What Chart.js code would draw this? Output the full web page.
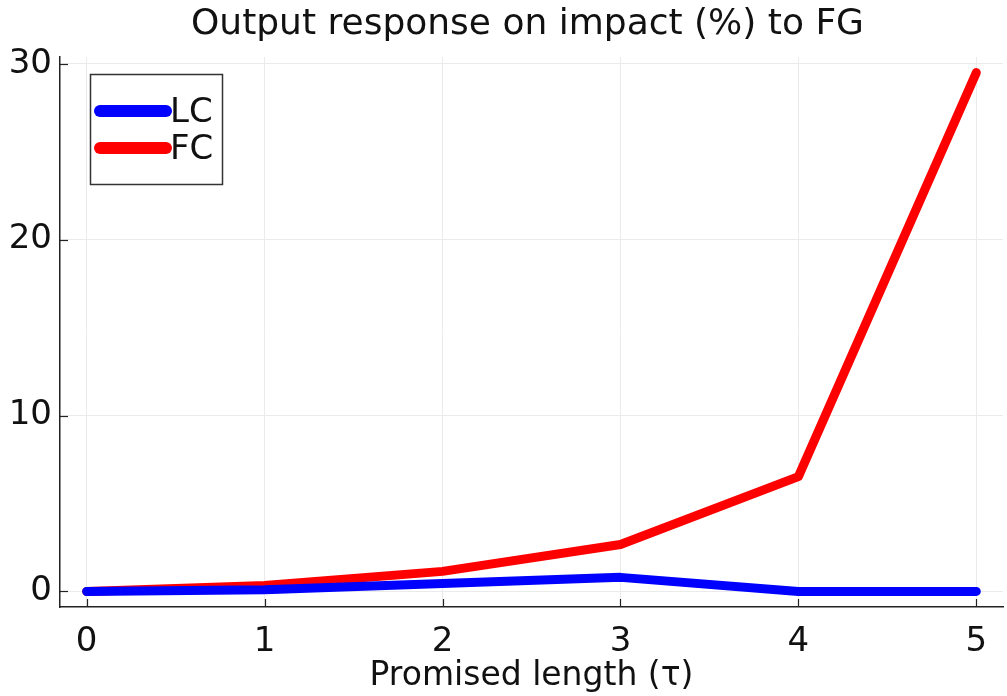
<!DOCTYPE html>
<html>
<head>
<meta charset="utf-8">
<script src="https://cdn.jsdelivr.net/npm/chart.js@4.4.1/dist/chart.umd.min.js"></script>
<style>
  html, body { margin: 0; padding: 0; background: #fff; }
  #wrap { width: 1007px; height: 696px; }
</style>
</head>
<body>
<div id="wrap"><canvas id="fgChart"></canvas></div>
<script>
// promised length of forward guidance
const horizons = [0, 1, 2, 3, 4, 5];
// output response on impact (%)
const lcValues = [0, 0.1, 0.45, 0.8, 0, 0];
const fcValues = [0, 0.34, 1.14, 2.67, 6.53, 29.5];
const xTicks = [0, 1, 2, 3, 4, 5];
const yTicks = [0, 10, 20, 30];
const titleText = 'Output response on impact (%) to FG';

const FONT = "'DejaVu Sans', sans-serif";

// title centred over the plot area, not the whole canvas
const plotTitle = {
    id: 'plotTitle',
    afterDraw(chart) {
        const c = chart.ctx, a = chart.chartArea;
        c.save();
        c.font = '36px ' + FONT;
        c.fillStyle = '#111';
        c.textAlign = 'center';
        c.textBaseline = 'middle';
        c.fillText(titleText, (a.left + a.right) / 2 - 4, 25);
        c.restore();
    }
};

// little inward tick marks like the original plot
const innerTicks = {
    id: 'innerTicks',
    afterDraw(chart) {
        const c = chart.ctx, a = chart.chartArea;
        const xs = chart.scales.x, ys = chart.scales.y;
        c.save();
        c.strokeStyle = '#222';
        c.lineWidth = 1.2;
        xTicks.forEach(v => {
            const px = Math.round(xs.getPixelForValue(v)) + 0.5;
            c.beginPath(); c.moveTo(px, a.bottom); c.lineTo(px, a.bottom - 8); c.stroke();
        });
        yTicks.forEach(v => {
            const py = Math.round(ys.getPixelForValue(v)) + 0.5;
            c.beginPath(); c.moveTo(a.left, py); c.lineTo(a.left + 8, py); c.stroke();
        });
        c.restore();
    }
};

// legend box sitting in the top-left of the plot
const boxLegend = {
    id: 'boxLegend',
    afterDraw(chart) {
        const c = chart.ctx, a = chart.chartArea;
        const x0 = a.left + 30, y0 = a.top + 17, w = 132, h = 110;
        c.save();
        c.fillStyle = '#fff';
        c.fillRect(x0, y0, w, h);
        c.strokeStyle = '#333';
        c.lineWidth = 1.5;
        c.strokeRect(x0 + 0.5, y0 + 0.5, w, h);
        c.font = '34px ' + FONT;
        c.textBaseline = 'middle';
        chart.data.datasets.forEach((ds, i) => {
            const y = y0 + 37 + i * 37;
            c.strokeStyle = ds.borderColor;
            c.lineWidth = 12;
            c.lineCap = 'round';
            c.beginPath(); c.moveTo(x0 + 10, y); c.lineTo(x0 + 76, y); c.stroke();
            c.fillStyle = '#111';
            c.fillText(ds.label, x0 + 80, y + 2);
        });
        c.restore();
    }
};

const ctx = document.getElementById('fgChart').getContext('2d');
const fgChart = new Chart(ctx, {
    type: 'line',
    data: {
        datasets: [{
            label: 'LC',
            data: horizons.map((h, i) => ({ x: h, y: lcValues[i] })),
            borderColor: '#0000ff',
            borderWidth: 9,
            pointRadius: 0,
            borderCapStyle: 'round',
            borderJoinStyle: 'round',
            tension: 0
        }, {
            label: 'FC',
            data: horizons.map((h, i) => ({ x: h, y: fcValues[i] })),
            borderColor: '#ff0000',
            borderWidth: 9,
            pointRadius: 0,
            borderCapStyle: 'round',
            borderJoinStyle: 'round',
            tension: 0
        }]
    },
    options: {
        responsive: true,
        maintainAspectRatio: false,
        animation: false,
        layout: { padding: { left: 0, right: 4, top: 57, bottom: 0 } },
        plugins: {
            legend: { display: false },
            tooltip: { enabled: false },
            title: { display: false }
        },
        scales: {
            x: {
                type: 'linear',
                min: -0.15,
                max: 5.15,
                afterBuildTicks: s => { s.ticks = xTicks.map(v => ({ value: v })); },
                afterFit: s => { s.height = 89; },
                ticks: {
                    color: '#111',
                    font: { family: FONT, size: 34 },
                    padding: 15,
                    maxRotation: 0
                },
                grid: { color: '#ebebeb', lineWidth: 1, drawTicks: false },
                border: { color: '#222', width: 1.5 },
                title: {
                    display: true,
                    text: 'Promised length (τ)',
                    color: '#111',
                    font: { family: FONT, size: 33 },
                    padding: { top: 0, bottom: 0 }
                }
            },
            y: {
                type: 'linear',
                min: -0.885,
                max: 30.385,
                afterBuildTicks: s => { s.ticks = yTicks.map(v => ({ value: v })); },
                afterFit: s => { s.width = 60; },
                ticks: {
                    color: '#111',
                    font: { family: FONT, size: 34 },
                    padding: 8
                },
                grid: { color: '#ebebeb', lineWidth: 1, drawTicks: false },
                border: { color: '#222', width: 1.5 }
            }
        }
    },
    plugins: [plotTitle, innerTicks, boxLegend]
});
</script>
</body>
</html>
